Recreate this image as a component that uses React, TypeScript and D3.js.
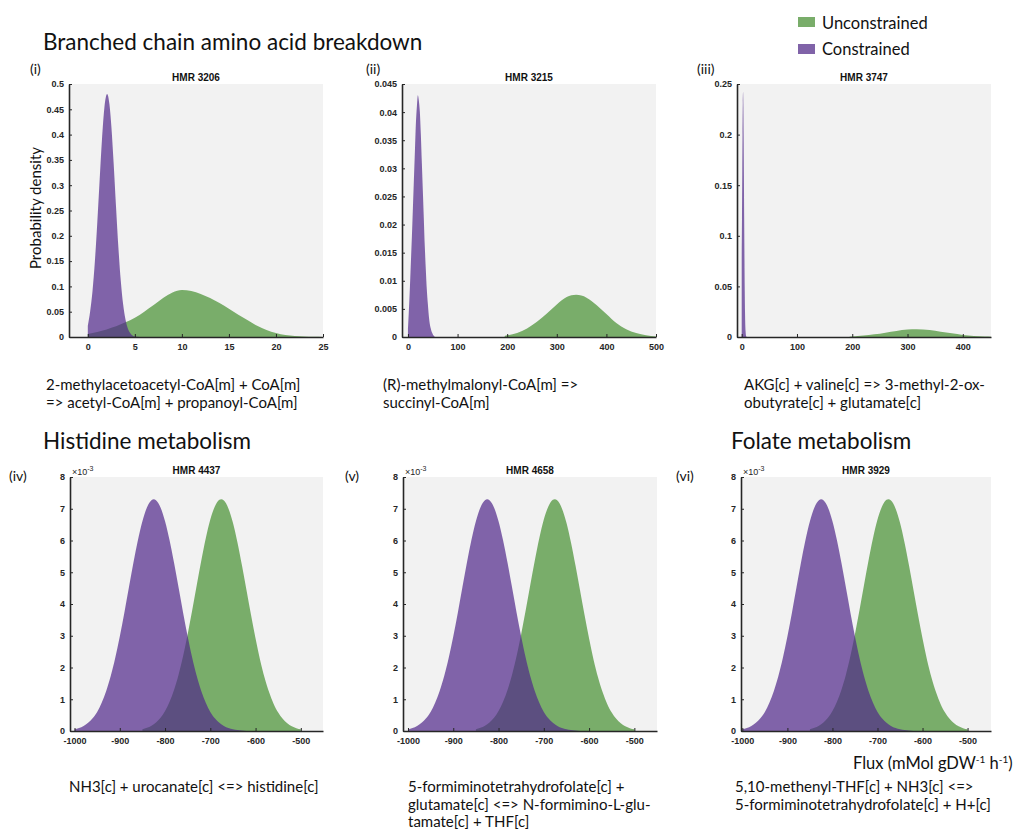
import React, { useEffect, useRef } from 'react';
import * as d3 from 'd3';

// values
const sectionTitles = ['Branched chain amino acid breakdown', 'Histidine metabolism', 'Folate metabolism'];
const seriesNames = ['Unconstrained', 'Constrained'];
const panelTags = ['(i)', '(ii)', '(iii)', '(iv)', '(v)', '(vi)'];
const reactionIds = ['HMR 3206', 'HMR 3215', 'HMR 3747', 'HMR 4437', 'HMR 4658', 'HMR 3929'];
const reactionText = [
  ['2-methylacetoacetyl-CoA[m] + CoA[m]', '=> acetyl-CoA[m] + propanoyl-CoA[m]'],
  ['(R)-methylmalonyl-CoA[m] =>', 'succinyl-CoA[m]'],
  ['AKG[c] + valine[c] => 3-methyl-2-ox-', 'obutyrate[c] + glutamate[c]'],
  ['NH3[c] + urocanate[c] <=> histidine[c]'],
  ['5-formiminotetrahydrofolate[c] +', 'glutamate[c] <=> N-formimino-L-glu-', 'tamate[c] + THF[c]'],
  ['5,10-methenyl-THF[c] + NH3[c] <=>', '5-formiminotetrahydrofolate[c] + H+[c]'],
];

const xTicksTop = [
  [0, 5, 10, 15, 20, 25],
  [0, 100, 200, 300, 400, 500],
  [0, 100, 200, 300, 400],
];
const yTicksTop = [
  [0, 0.05, 0.1, 0.15, 0.2, 0.25, 0.3, 0.35, 0.4, 0.45, 0.5],
  [0, 0.005, 0.01, 0.015, 0.02, 0.025, 0.03, 0.035, 0.04, 0.045],
  [0, 0.05, 0.1, 0.15, 0.2, 0.25],
];
const xTicksFlux = [-1000, -900, -800, -700, -600, -500];
const yTicksFlux = [0, 1, 2, 3, 4, 5, 6, 7, 8]; // x10^-3

// density curves [flux, density]
const hmr3206Unconstrained = [
  [0, 0.006], [1, 0.01], [2, 0.015], [3, 0.021], [4, 0.029], [5, 0.038], [6, 0.05], [7, 0.063],
  [8, 0.077], [9, 0.088], [10, 0.093], [11, 0.091], [12, 0.085], [13, 0.077], [14, 0.067],
  [15, 0.056], [16, 0.044], [17, 0.033], [18, 0.022], [19, 0.014], [20, 0.008], [21, 0.004],
  [22, 0.002], [23, 0.001], [24, 0.0003], [25, 0],
];
const hmr3206Constrained = [
  [0, 0.022], [0.25, 0.051], [0.5, 0.091], [0.75, 0.149], [1, 0.224], [1.25, 0.308], [1.5, 0.389],
  [1.75, 0.451], [2.05, 0.48], [2.3, 0.46], [2.5, 0.417], [2.75, 0.342], [3, 0.257], [3.25, 0.177],
  [3.5, 0.112], [3.75, 0.065], [4, 0.035], [4.5, 0.008], [5, 0.001], [5.5, 0],
];
const hmr3215Unconstrained = [
  [195, 0.0002], [200, 0.0003], [220, 0.0007], [240, 0.0015], [260, 0.0027], [280, 0.0042],
  [300, 0.0058], [320, 0.0071], [339, 0.0075], [360, 0.007], [380, 0.0057], [400, 0.0041],
  [420, 0.0025], [440, 0.0014], [460, 0.0007], [480, 0.0003], [500, 0.0001],
];
const hmr3215Constrained = [
  [0, 0.0015], [2, 0.005], [4, 0.009], [6, 0.0135], [8, 0.018], [10, 0.023], [12, 0.028],
  [14, 0.033], [16, 0.038], [18, 0.041], [20, 0.043], [22, 0.042], [24, 0.04], [26, 0.036],
  [28, 0.031], [30, 0.026], [32, 0.021], [34, 0.016], [36, 0.012], [38, 0.0085], [40, 0.006],
  [43, 0.003], [46, 0.0015], [50, 0.0005], [55, 0],
];
const hmr3747Unconstrained = [
  [195, 0.0003], [200, 0.0005], [220, 0.0014], [240, 0.0026], [260, 0.0043], [280, 0.006],
  [300, 0.0073], [316, 0.0076], [340, 0.0068], [360, 0.0053], [380, 0.0036], [400, 0.0021],
  [420, 0.001], [440, 0.00044], [451, 0.00026],
];
const hmr3747Constrained = [
  [0, 0.077], [0.5, 0.116], [1, 0.16], [1.5, 0.2], [2, 0.231], [2.5, 0.242], [3, 0.231],
  [3.5, 0.2], [4, 0.16], [4.5, 0.116], [5, 0.077], [5.5, 0.046], [6, 0.025], [7, 0.006],
  [8, 0.001], [9, 0],
];
// the three lower panels show the same pair of curves (density in units of 1e-3)
const fluxUnconstrained = [
  [-850, 0.057], [-840, 0.1], [-830, 0.166], [-820, 0.268], [-810, 0.417], [-800, 0.629],
  [-790, 0.92], [-780, 1.3], [-770, 1.78], [-760, 2.37], [-750, 3.05], [-740, 3.8], [-730, 4.59],
  [-720, 5.36], [-710, 6.07], [-700, 6.66], [-690, 7.07], [-680, 7.28], [-676, 7.3], [-670, 7.26],
  [-660, 7.01], [-650, 6.56], [-640, 5.94], [-630, 5.21], [-620, 4.43], [-610, 3.65], [-600, 2.91],
  [-590, 2.24], [-580, 1.68], [-570, 1.22], [-560, 0.854], [-550, 0.581], [-540, 0.382],
  [-530, 0.244], [-520, 0.151], [-510, 0.09], [-500, 0.055],
];
const fluxConstrained = [
  [-1000, 0.055], [-990, 0.095], [-980, 0.16], [-970, 0.256], [-960, 0.4], [-950, 0.6],
  [-940, 0.886], [-930, 1.26], [-920, 1.73], [-910, 2.31], [-900, 2.98], [-890, 3.72], [-880, 4.51],
  [-870, 5.29], [-860, 6.01], [-850, 6.61], [-840, 7.04], [-830, 7.27], [-825, 7.3], [-820, 7.27],
  [-810, 7.04], [-800, 6.61], [-790, 6.01], [-780, 5.29], [-770, 4.51], [-760, 3.72], [-750, 2.98],
  [-740, 2.31], [-730, 1.73], [-720, 1.26], [-710, 0.886], [-700, 0.6], [-690, 0.4], [-680, 0.256],
  [-670, 0.16], [-660, 0.095], [-650, 0.055], [-640, 0.03], [-630, 0.015], [-620, 0],
];

const GREEN = '#79ad6a';
const PURPLE = '#50278a';
const BG = '#f2f2f2';
const INK = '#262626';
const sans = "Lato, 'Open Sans', sans-serif";
const arial = "'Liberation Sans', Arial, sans-serif";

// layout of the six axes boxes
const boxes = [
  { x0: 69, x1: 323, y0: 84, y1: 337, xd: [-2, 25], yd: [0, 0.5] },
  { x0: 402, x1: 656, y0: 84, y1: 337, xd: [-12, 500], yd: [0, 0.045] },
  { x0: 737, x1: 991, y0: 84, y1: 337, xd: [-8.5, 451], yd: [0, 0.25] },
  { x0: 70, x1: 323, y0: 477, y1: 731, xd: [-1010, -451], yd: [0, 8] },
  { x0: 403, x1: 657, y0: 477, y1: 731, xd: [-1011, -450], yd: [0, 8] },
  { x0: 741, x1: 991, y0: 477, y1: 731, xd: [-1003, -448], yd: [0, 8] },
];
const tagPos = [[30, 74], [366, 74], [697, 74], [9, 481], [345, 481], [676, 481]];
const captionPos = [[46, 390], [383, 390], [744, 390], [69, 792], [408, 792], [735, 792]];

const panels = [
  { un: hmr3206Unconstrained, co: hmr3206Constrained, xt: xTicksTop[0], yt: yTicksTop[0], exp: false },
  { un: hmr3215Unconstrained, co: hmr3215Constrained, xt: xTicksTop[1], yt: yTicksTop[1], exp: false },
  { un: hmr3747Unconstrained, co: hmr3747Constrained, xt: xTicksTop[2], yt: yTicksTop[2], exp: false },
  { un: fluxUnconstrained, co: fluxConstrained, xt: xTicksFlux, yt: yTicksFlux, exp: true },
  { un: fluxUnconstrained, co: fluxConstrained, xt: xTicksFlux, yt: yTicksFlux, exp: true },
  { un: fluxUnconstrained, co: fluxConstrained, xt: xTicksFlux, yt: yTicksFlux, exp: true },
];

export default function App() {
  const ref = useRef<SVGSVGElement>(null);

  useEffect(() => {
    const svg = d3.select(ref.current);
    svg.selectAll('*').remove();

    panels.forEach((p, i) => {
      const b = boxes[i];
      const x = d3.scaleLinear().domain(b.xd).range([b.x0, b.x1]);
      const y = d3.scaleLinear().domain(b.yd).range([b.y1, b.y0]);
      const g = svg.append('g');

      g.append('rect')
        .attr('x', b.x0).attr('y', b.y0)
        .attr('width', b.x1 - b.x0).attr('height', b.y1 - b.y0)
        .attr('fill', BG);

      g.append('clipPath').attr('id', `clip${i}`)
        .append('rect')
        .attr('x', b.x0).attr('y', b.y0)
        .attr('width', b.x1 - b.x0).attr('height', b.y1 - b.y0);

      const area = d3.area<number[]>()
        .x((d) => x(d[0]))
        .y0(y(0))
        .y1((d) => y(d[1]))
        .curve(d3.curveMonotoneX);

      g.append('path').attr('d', area(p.un)).attr('fill', GREEN).attr('clip-path', `url(#clip${i})`);
      g.append('path').attr('d', area(p.co)).attr('fill', PURPLE).attr('fill-opacity', 0.7)
        .attr('clip-path', `url(#clip${i})`);

      const xAxis = d3.axisBottom(x).tickValues(p.xt).tickSizeInner(-3).tickSizeOuter(0)
        .tickPadding(7).tickFormat((d) => String(d));
      const yAxis = d3.axisLeft(y).tickValues(p.yt).tickSizeInner(-3).tickSizeOuter(0)
        .tickPadding(5).tickFormat((d) => String(d));

      [g.append('g').attr('transform', `translate(0,${b.y1})`).call(xAxis),
       g.append('g').attr('transform', `translate(${b.x0},0)`).call(yAxis)].forEach((ax) => {
        ax.attr('font-family', arial).attr('font-size', 9).attr('font-weight', 'bold');
        ax.select('.domain').attr('stroke', INK).attr('stroke-width', 1.6);
        ax.selectAll('.tick line').attr('stroke', INK).attr('stroke-width', 1);
        ax.selectAll('.tick text').attr('fill', INK);
      });

      // title
      g.append('text')
        .attr('x', (b.x0 + b.x1) / 2).attr('y', b.y0 - 3)
        .attr('text-anchor', 'middle')
        .attr('font-family', arial).attr('font-size', 10).attr('font-weight', 'bold')
        .attr('fill', '#111')
        .text(reactionIds[i]);

      if (p.exp) {
        const t = g.append('text')
          .attr('x', b.x0 + 2).attr('y', b.y0 - 2)
          .attr('font-family', arial).attr('font-size', 9).attr('fill', INK);
        t.append('tspan').text('\u00d710');
        t.append('tspan').attr('dy', -4).attr('font-size', 7).text('-3');
      }

      // panel tag
      svg.append('text')
        .attr('x', tagPos[i][0]).attr('y', tagPos[i][1])
        .attr('font-family', sans).attr('font-size', 14).attr('fill', '#111')
        .text(panelTags[i]);

      // reaction caption
      const cap = svg.append('text')
        .attr('font-family', sans).attr('font-size', 15).attr('fill', '#111');
      reactionText[i].forEach((line, k) => {
        cap.append('tspan')
          .attr('x', captionPos[i][0]).attr('y', captionPos[i][1] + k * 17.5)
          .text(line);
      });
    });

    // section headings
    const heads = [[43, 50], [43, 449], [731, 449]];
    sectionTitles.forEach((s, i) => {
      svg.append('text')
        .attr('x', heads[i][0]).attr('y', heads[i][1])
        .attr('font-family', sans).attr('font-size', 22.5).attr('fill', '#111')
        .text(s);
    });

    // legend
    const legendColors = [GREEN, '#8063a8'];
    seriesNames.forEach((s, i) => {
      svg.append('rect')
        .attr('x', 798).attr('y', 17 + i * 27)
        .attr('width', 17).attr('height', 10)
        .attr('fill', legendColors[i]);
      svg.append('text')
        .attr('x', 822).attr('y', 29 + i * 26)
        .attr('font-family', sans).attr('font-size', 16.5).attr('fill', '#111')
        .text(s);
    });

    // axis labels
    svg.append('text')
      .attr('transform', 'translate(41,208) rotate(-90)')
      .attr('text-anchor', 'middle')
      .attr('font-family', sans).attr('font-size', 15).attr('fill', '#111')
      .text('Probability density');

    const flux = svg.append('text')
      .attr('x', 853).attr('y', 769)
      .attr('font-family', sans).attr('font-size', 16.5).attr('fill', '#111');
    flux.append('tspan').text('Flux (mMol gDW');
    flux.append('tspan').attr('dy', -6).attr('font-size', 10).text('-1');
    flux.append('tspan').attr('dy', 6).text(' h');
    flux.append('tspan').attr('dy', -6).attr('font-size', 10).text('-1');
    flux.append('tspan').attr('dy', 6).text(')');
  }, []);

  return (
    <svg
      ref={ref}
      width={1017}
      height={832}
      style={{ position: 'absolute', left: 0, top: 0, background: '#fff' }}
    />
  );
}
